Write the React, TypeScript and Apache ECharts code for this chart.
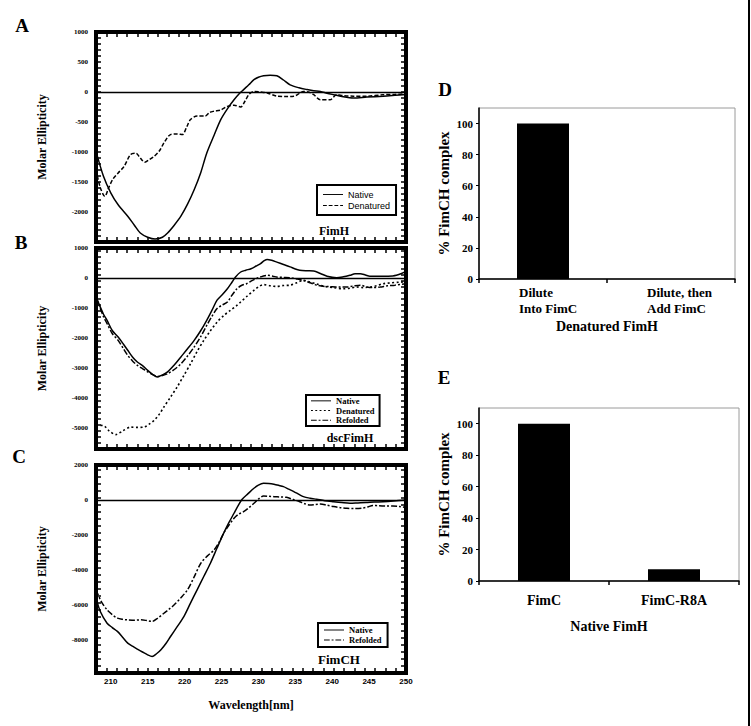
import React, { useEffect, useRef } from "react";
import * as echarts from "echarts";

// ---------- Panel A (FimH) ----------
const aNativeNm = [208, 209, 210, 211, 212.3, 213.2, 214, 215, 216, 217, 217.7, 218.6, 219.5, 220.4, 221.3, 222.2, 223, 224, 224.9, 225.8, 226.7, 227.4, 228, 228.7, 229.4, 230, 230.7, 231.6, 232.5, 233.4, 234.3, 235.5, 236.6, 237.5, 238.4, 239.3, 240.2, 241.5, 242.9, 244.7, 246.9, 248.5, 250];
const aNativeVal = [-990, -1400, -1680, -1880, -2070, -2220, -2350, -2420, -2450, -2420, -2350, -2220, -2070, -1870, -1630, -1340, -1020, -720, -460, -280, -130, -30, 40, 120, 205, 245, 270, 280, 270, 200, 120, 70, 40, 20, 10, -20, -45, -80, -100, -85, -70, -55, -40];
const aDenatNm = [208, 208.6, 209.2, 209.7, 210.3, 211, 211.8, 212.7, 213.4, 214, 214.6, 215.2, 215.9, 216.6, 217.2, 218.1, 219, 219.7, 220.3, 220.8, 221.7, 222.8, 223.4, 224, 224.9, 225.8, 226.7, 227.6, 228.2, 228.7, 229.4, 230.3, 231.2, 232.5, 233.6, 234.8, 235.6, 236.1, 236.8, 237.5, 238.4, 239.7, 240.6, 241.5, 242.9, 244.7, 246.9, 248.5, 250];
const aDenatVal = [-1300, -1600, -1740, -1600, -1450, -1350, -1240, -1040, -1020, -1100, -1170, -1130, -1070, -980, -850, -710, -700, -710, -580, -460, -400, -400, -340, -320, -300, -240, -220, -250, -150, -45, 10, 0, -15, -70, -75, -70, -20, 10, 0, -45, -130, -130, -45, -60, -70, -70, -45, -40, -30];

// ---------- Panel B (dscFimH) ----------
const bNativeNm = [208, 209, 209.5, 210.2, 211, 211.7, 212.3, 213, 213.6, 214.3, 215, 215.7, 216.3, 217, 217.7, 218.6, 219.5, 220.4, 221.3, 222.2, 223, 223.7, 224.4, 225.1, 225.8, 226.4, 226.9, 227.6, 228.3, 229, 229.7, 230.3, 230.8, 231.2, 231.8, 232.5, 233.4, 234.3, 235, 235.6, 236.6, 237.5, 238.4, 239.3, 240.6, 241.5, 242.4, 243.1, 243.8, 244.5, 245.1, 246.9, 248.2, 248.7, 249.4, 250];
const bNativeVal = [-630, -1200, -1410, -1750, -1970, -2200, -2410, -2650, -2800, -2920, -3080, -3220, -3300, -3230, -3130, -2900, -2630, -2360, -2080, -1750, -1410, -1080, -740, -560, -360, -150, 30, 200, 260, 310, 400, 480, 580, 620, 590, 530, 450, 370, 300, 260, 240, 230, 150, 60, 10, 40, 90, 140, 140, 100, 60, 60, 70, 90, 150, 220];
const bDenatNm = [208, 209, 209.8, 210.7, 211.6, 212.7, 213.6, 214.5, 215.2, 215.9, 216.6, 217.2, 218.1, 219, 219.9, 220.8, 221.7, 222.6, 223.5, 224.4, 225.3, 226.2, 227, 227.6, 228.5, 229.4, 230.1, 230.7, 231.6, 232.5, 233.4, 234.3, 235.2, 236.1, 237, 237.9, 239, 240.2, 241.5, 242.4, 243.3, 244.2, 245.1, 246, 246.9, 248, 249, 250];
const bDenatVal = [-4910, -4920, -5100, -5220, -5100, -4970, -4980, -4970, -4870, -4740, -4530, -4300, -3970, -3630, -3250, -2860, -2450, -2080, -1760, -1470, -1250, -1080, -930, -800, -600, -410, -280, -220, -260, -280, -250, -240, -160, -80, -140, -200, -280, -320, -360, -340, -300, -320, -300, -260, -190, -160, -140, -130];
const bRefoldNm = [208, 209, 209.5, 210.2, 211, 211.7, 212.3, 213, 213.6, 214.3, 215, 215.7, 216.3, 217, 217.7, 218.6, 219.5, 220.4, 221.3, 222.2, 223, 223.7, 224.4, 225.1, 225.8, 226.4, 227.1, 227.7, 228.4, 229.2, 230, 230.6, 231.2, 232, 232.5, 233.4, 234.3, 235.2, 236.1, 237, 237.9, 239, 240, 241, 242, 243, 243.8, 244.7, 245.5, 246.5, 247.5, 248.5, 250];
const bRefoldVal = [-630, -1280, -1520, -1850, -2080, -2350, -2580, -2780, -2910, -3020, -3130, -3220, -3280, -3250, -3190, -3050, -2860, -2600, -2300, -1950, -1580, -1280, -1020, -900, -800, -580, -360, -250, -190, -80, 10, 60, 90, 60, 30, 20, 10, -30, -80, -160, -240, -280, -290, -300, -300, -260, -240, -300, -320, -300, -260, -240, -190];

// ---------- Panel C (FimCH) ----------
const cNativeNm = [208, 208.6, 209.5, 210.2, 210.9, 211.6, 212.3, 213, 213.6, 214.3, 215, 215.6, 216.2, 216.8, 217.5, 218.1, 219, 219.9, 220.8, 221.7, 222.6, 223.5, 224.4, 225.3, 226, 226.7, 227.3, 227.8, 228.6, 229.4, 230, 230.7, 231.4, 232.1, 232.8, 233.4, 234.1, 234.8, 235.5, 236.1, 237, 237.9, 239, 240.2, 241.3, 242.4, 243.5, 244.6, 245.7, 246.9, 248.3, 250];
const cNativeVal = [-5600, -6400, -7050, -7300, -7520, -7850, -8190, -8380, -8530, -8700, -8860, -8950, -8800, -8570, -8200, -7810, -7250, -6670, -5900, -5140, -4380, -3620, -2750, -1900, -1300, -760, -300, 40, 360, 670, 850, 950, 940, 900, 830, 760, 620, 480, 320, 190, 100, 40, -40, -100, -150, -190, -170, -150, -120, -100, -60, 0];
const cRefoldNm = [208, 208.7, 209.5, 210.2, 210.9, 211.6, 212.3, 213.2, 214.1, 214.9, 215.6, 216.4, 217.2, 217.9, 218.6, 219.5, 220.4, 221.3, 222.2, 223.1, 224, 224.7, 225.3, 226, 226.7, 227.3, 228, 228.7, 229.4, 230, 230.7, 231.4, 232.1, 233, 233.8, 234.7, 235.6, 236.3, 237, 237.7, 238.4, 239.3, 240.2, 241.1, 242, 243, 244, 244.8, 245.5, 246.4, 247.3, 248.2, 249.1, 250];
const cRefoldVal = [-5140, -5800, -6290, -6560, -6760, -6830, -6860, -6880, -6860, -6900, -6950, -6750, -6480, -6250, -6000, -5600, -5140, -4400, -3620, -3200, -2860, -2400, -1900, -1450, -1050, -820, -670, -450, -190, 50, 230, 210, 190, 170, 150, 30, -100, -220, -290, -260, -230, -300, -380, -440, -480, -490, -470, -400, -320, -330, -350, -340, -370, -440];

// ---------- Panels D, E ----------
const dCategories = ["Dilute\nInto FimC", "Dilute, then\nAdd FimC"];
const dValues = [100, 0];
const eCategories = ["FimC", "FimC-R8A"];
const eValues = [100, 7.5];

// ---------- tick labels ----------
const wlLabels = [210, 215, 220, 225, 230, 235, 240, 245, 250];
const aYLabels = [1000, 500, 0, -500, -1000, -1500, -2000];
const bYLabels = [1000, 0, -1000, -2000, -3000, -4000, -5000];
const cYLabels = [2000, 0, -2000, -4000, -6000, -8000];
const pctLabels = [0, 20, 40, 60, 80, 100];

const serif = "'Liberation Serif', 'DejaVu Serif', serif";
const sans = "'Liberation Sans', 'DejaVu Sans', sans-serif";

// line dash patterns
const DASHED = [4, 2];
const DOTTED = [2, 2.5];
const DASHDOT = [6, 2, 2, 2];

function zip(xs: number[], ys: number[]) {
  return xs.map((x, i) => [x, ys[i]]);
}
function steps(a: number, b: number, s: number) {
  const out: number[] = [];
  for (let v = a; v <= b + 1e-9; v += s) out.push(Math.round(v * 100) / 100);
  return out;
}
// legend icon as filled path of dash segments (total width 21, height 1)
function dashIcon(pattern: number[] | null, total = 21) {
  if (!pattern) return `path://M0,0h${total}v1h-${total}z`;
  let d = "";
  let x = 0;
  let k = 0;
  while (x < total) {
    const len = Math.min(pattern[k % pattern.length], total - x);
    if (k % 2 === 0) d += `M${x},0h${len}v1h-${len}z `;
    x += pattern[k % pattern.length];
    k++;
  }
  d += `M${total},0v1`;
  return "path://" + d.trim();
}

const nmTicks = steps(208, 250, 1.4);

type CD = {
  grid: any;
  yMin: number;
  yMax: number;
  yLabels: number[];
  yStep: number;
  showX: boolean;
};

const cdPanels: CD[] = [
  { grid: { left: 96, top: 32, width: 310, height: 210 }, yMin: -2500, yMax: 1000, yLabels: aYLabels, yStep: 100, showX: false },
  { grid: { left: 96, top: 248, width: 310, height: 201 }, yMin: -5700, yMax: 1000, yLabels: bYLabels, yStep: 200, showX: false },
  { grid: { left: 96, top: 465, width: 310, height: 208 }, yMin: -9900, yMax: 2000, yLabels: cYLabels, yStep: 400, showX: true },
];

function buildOption() {
  const grid: any[] = [];
  const xAxis: any[] = [];
  const yAxis: any[] = [];
  const tickStyle = { color: "#000", width: 1.5 };
  const plain = (v: number) => String(v);

  cdPanels.forEach((p, i) => {
    grid.push({ ...p.grid, show: true, borderColor: "#000", borderWidth: 4, backgroundColor: "#fff", containLabel: false });
    const yTicks = steps(p.yMin, p.yMax, p.yStep);
    const xBase = {
      type: "value", gridIndex: i, min: 208, max: 250,
      axisLine: { show: false, onZero: false }, splitLine: { show: false },
      axisTick: { show: true, inside: true, length: 5, customValues: nmTicks, lineStyle: tickStyle },
    };
    xAxis.push({
      ...xBase, position: "bottom",
      axisLabel: { show: p.showX, customValues: wlLabels, formatter: plain, fontSize: 8, fontWeight: "bold", fontFamily: sans, color: "#000", margin: 4 },
      name: p.showX ? "Wavelength[nm]" : "", nameLocation: "middle", nameGap: 26,
      nameTextStyle: { fontSize: 12, fontWeight: "bold", fontFamily: serif, color: "#000" },
    });
    xAxis.push({ ...xBase, position: "top", axisLabel: { show: false } });
    const yBase = {
      type: "value", gridIndex: i, min: p.yMin, max: p.yMax,
      axisLine: { show: false, onZero: false }, splitLine: { show: false },
      axisTick: { show: true, inside: true, length: 5, customValues: yTicks, lineStyle: tickStyle },
    };
    yAxis.push({
      ...yBase, position: "left",
      axisLabel: { customValues: p.yLabels, formatter: plain, fontSize: 7, fontWeight: "bold", fontFamily: serif, color: "#000", margin: 8 },
      name: "Molar Ellipticity", nameLocation: "middle", nameGap: 48,
      nameTextStyle: { fontSize: 12, fontWeight: "bold", fontFamily: serif, color: "#000" },
    });
    yAxis.push({ ...yBase, position: "right", axisLabel: { show: false } });
  });

  // D and E
  const barGrids = [
    { left: 479, top: 108, width: 256, height: 171 },
    { left: 479, top: 408, width: 260, height: 173 },
  ];
  barGrids.forEach((g) => grid.push({ ...g, show: true, borderColor: "#9a9a9a", borderWidth: 1 }));

  const catLabelBase = { fontSize: 13, fontWeight: "bold", fontFamily: serif, color: "#000", lineHeight: 16 };
  xAxis.push({
    type: "category", gridIndex: 3, data: dCategories,
    axisLine: { onZero: false, lineStyle: { color: "#000", width: 1.5 } },
    axisTick: { show: true, length: 4, lineStyle: { color: "#000", width: 1.5 } },
    axisLabel: {
      interval: 0, margin: 5, padding: [0, 0, 0, 18],
      formatter: (v: string) => v.split("\n").map((l) => `{a|${l}}`).join("\n"),
      rich: { a: { ...catLabelBase, width: 66, align: "left" } },
    },
    name: "Denatured FimH", nameLocation: "middle", nameGap: 40,
    nameTextStyle: { fontSize: 14, fontWeight: "bold", fontFamily: serif, color: "#000" },
  });
  xAxis.push({
    type: "category", gridIndex: 4, data: eCategories,
    axisLine: { onZero: false, lineStyle: { color: "#000", width: 1.5 } },
    axisTick: { show: true, length: 4, lineStyle: { color: "#000", width: 1.5 } },
    axisLabel: { interval: 0, margin: 11, ...catLabelBase, fontSize: 14 },
    name: "Native FimH", nameLocation: "middle", nameGap: 38,
    nameTextStyle: { fontSize: 14, fontWeight: "bold", fontFamily: serif, color: "#000" },
  });
  [3, 4].forEach((gi) => {
    yAxis.push({
      type: "value", gridIndex: gi, min: 0, max: 110,
      axisLine: { show: true, onZero: false, lineStyle: { color: "#000", width: 1.5 } },
      splitLine: { show: false },
      axisTick: { show: true, length: 3, customValues: pctLabels, lineStyle: { color: "#000" } },
      axisLabel: { customValues: pctLabels, formatter: plain, fontSize: 11, fontWeight: "bold", fontFamily: serif, color: "#000", margin: 6 },
      name: "% FimCH complex", nameLocation: "middle", nameGap: 28,
      nameTextStyle: { fontSize: 15, fontWeight: "bold", fontFamily: serif, color: "#000" },
    });
  });

  const zeroLine = (on: boolean) =>
    on
      ? { silent: true, symbol: "none", label: { show: false }, lineStyle: { color: "#000", type: "solid", width: 1.3 }, data: [{ yAxis: 0 }] }
      : undefined;

  const line = (name: string, panel: number, xs: number[], ys: number[], type: any, width = 1.5, withZero = false) => ({
    name, type: "line", xAxisIndex: panel * 2, yAxisIndex: panel * 2,
    data: zip(xs, ys), smooth: 0.3, showSymbol: false, symbol: "none",
    lineStyle: { color: "#000", width, type },
    itemStyle: { color: "#000" },
    markLine: zeroLine(withZero),
    z: 3,
  });

  const series: any[] = [
    line("Native", 0, aNativeNm, aNativeVal, "solid", 1.5, true),
    line("Denatured", 0, aDenatNm, aDenatVal, DASHED, 1.5),
    line("Native ", 1, bNativeNm, bNativeVal, "solid", 1.5, true),
    line("Denatured ", 1, bDenatNm, bDenatVal, DOTTED, 1.6),
    line("Refolded", 1, bRefoldNm, bRefoldVal, DASHDOT, 1.5),
    line("Native  ", 2, cNativeNm, cNativeVal, "solid", 1.5, true),
    line("Refolded ", 2, cRefoldNm, cRefoldVal, DASHDOT, 1.5),
    { name: "D", type: "bar", xAxisIndex: 6, yAxisIndex: 6, data: dValues, barWidth: 52, itemStyle: { color: "#000" } },
    { name: "E", type: "bar", xAxisIndex: 7, yAxisIndex: 7, data: eValues, barWidth: 52, itemStyle: { color: "#000" } },
  ];

  const legendBase = {
    orient: "vertical", borderColor: "#000", borderWidth: 2, backgroundColor: "#fff",
    itemWidth: 20, itemHeight: 1.5, itemGap: 0, selectedMode: false,
    itemStyle: { color: "#000", borderWidth: 0 },
    formatter: (n: string) => n.trim(),
  };
  const item = (name: string, pattern: number[] | null) => ({ name, icon: dashIcon(pattern) });
  const legend = [
    { ...legendBase, left: 317, top: 185, padding: [4, 6],
      data: [item("Native", null), item("Denatured", DASHED)],
      textStyle: { fontSize: 9, fontFamily: sans, color: "#000", lineHeight: 11 } },
    { ...legendBase, left: 306, top: 395, padding: [1, 5],
      data: [item("Native ", null), item("Denatured ", DOTTED), item("Refolded", DASHDOT)],
      textStyle: { fontSize: 8.5, fontWeight: "bold", fontFamily: serif, color: "#000", lineHeight: 9.7 } },
    { ...legendBase, left: 318, top: 623, padding: [2, 6],
      data: [item("Native  ", null), item("Refolded ", DASHDOT)],
      textStyle: { fontSize: 8.5, fontWeight: "bold", fontFamily: serif, color: "#000", lineHeight: 10 } },
  ];

  const txt = (text: string, x: number, y: number, size: number) => ({
    type: "text", x, y, z: 10,
    style: { text, fontSize: size, fontWeight: "bold", fontFamily: serif, fill: "#000", align: "center", verticalAlign: "middle" },
  });

  const graphic = [
    txt("A", 22, 25, 19),
    txt("B", 21, 242, 19),
    txt("C", 19, 456, 19),
    txt("D", 445, 89, 19),
    txt("E", 444, 377, 19),
    txt("FimH", 334, 231, 12),
    txt("dscFimH", 350, 438, 12),
    txt("FimCH", 339, 659, 13),
    { type: "line", z: 10, shape: { x1: 749, y1: 0, x2: 749, y2: 726 }, style: { stroke: "#000", lineWidth: 2 } },
  ];

  return {
    animation: false,
    backgroundColor: "#fff",
    grid, xAxis, yAxis, series, legend, graphic,
  };
}

export default function App() {
  const ref = useRef<HTMLDivElement>(null);
  useEffect(() => {
    if (!ref.current) return;
    const chart = echarts.init(ref.current, undefined, { renderer: "svg" });
    chart.setOption(buildOption() as any);
    return () => chart.dispose();
  }, []);
  return <div ref={ref} style={{ position: "fixed", left: 0, top: 0, width: 751, height: 726, background: "#fff" }} />;
}
